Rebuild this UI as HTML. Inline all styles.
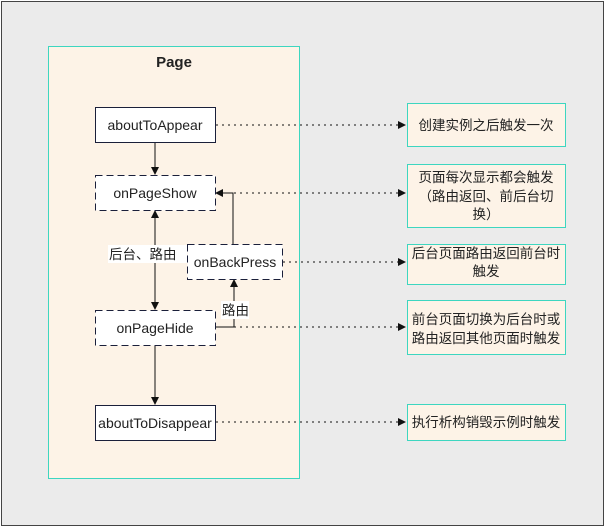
<!DOCTYPE html>
<html><head><meta charset="utf-8"><style>
body{margin:0;width:605px;height:527px;overflow:hidden;background:#fff}
text{font-family:"Liberation Sans","Noto Sans CJK SC",sans-serif;font-size:13.5px;fill:#222}
.n{font-size:14px}
</style></head><body>
<svg width="605" height="527" viewBox="0 0 605 527">
<defs><marker id="a" markerWidth="8" markerHeight="8" refX="7" refY="4" orient="auto" markerUnits="userSpaceOnUse"><path d="M0,0L8,4L0,8z" fill="#111"/></marker></defs>
<rect x="1.5" y="1.5" width="602" height="524" fill="#ebebeb" stroke="#444"/>
<rect x="48.5" y="46.5" width="251" height="432" fill="#fdf3e7" stroke="#3dd6c0"/>
<text x="174" y="67" text-anchor="middle" style="font-weight:bold;font-size:15px">Page</text>
<g stroke="#111" fill="none">
<line x1="155" y1="142" x2="155" y2="174" marker-end="url(#a)"/>
<line x1="155" y1="260" x2="155" y2="211" marker-end="url(#a)"/>
<line x1="155" y1="260" x2="155" y2="309" marker-end="url(#a)"/>
<polyline points="233,244 233,193 216,193" marker-end="url(#a)"/>
<polyline points="216,327 234,327 234,280" marker-end="url(#a)"/>
<line x1="155" y1="345" x2="155" y2="404" marker-end="url(#a)"/>
</g>
<g stroke="#111" stroke-dasharray="2,4" fill="none">
<line x1="216" y1="125" x2="405" y2="125" marker-end="url(#a)"/>
<line x1="216" y1="193" x2="405" y2="193" marker-end="url(#a)"/>
<line x1="283" y1="262" x2="405" y2="262" marker-end="url(#a)"/>
<line x1="216" y1="327" x2="405" y2="327" marker-end="url(#a)"/>
<line x1="216" y1="422" x2="405" y2="422" marker-end="url(#a)"/>
</g>
<g fill="#fff" stroke="#1a1f3a">
<rect x="95.5" y="107.5" width="120" height="35"/>
<rect x="95.5" y="175.5" width="120" height="35" stroke-dasharray="7,4"/>
<rect x="187.5" y="244.5" width="95" height="35" stroke-dasharray="7,4"/>
<rect x="95.5" y="310.5" width="120" height="35" stroke-dasharray="7,4"/>
<rect x="95.5" y="405.5" width="120" height="35"/>
</g>
<rect x="108" y="245" width="79" height="18" fill="#fff"/>
<rect x="221" y="301" width="28" height="18" fill="#fff"/>
<text class="n" x="155" y="130" text-anchor="middle">aboutToAppear</text>
<text class="n" x="155" y="198" text-anchor="middle">onPageShow</text>
<text class="n" x="235" y="267" text-anchor="middle">onBackPress</text>
<text class="n" x="155" y="333" text-anchor="middle">onPageHide</text>
<text class="n" x="155" y="428" text-anchor="middle">aboutToDisappear</text>
<text x="109" y="259">后台、路由</text>
<text x="222" y="315">路由</text>
<g fill="#fdf3e7" stroke="#3dd6c0">
<rect x="407.5" y="103.5" width="158" height="43"/>
<rect x="407.5" y="164.5" width="158" height="63"/>
<rect x="407.5" y="244.5" width="158" height="40"/>
<rect x="407.5" y="300.5" width="158" height="54"/>
<rect x="407.5" y="404.5" width="158" height="36"/>
</g>
<g text-anchor="middle">
<text x="486" y="130">创建实例之后触发一次</text>
<text x="486" y="182">页面每次显示都会触发</text>
<text x="486" y="201">（路由返回、前后台切</text>
<text x="486" y="219">换）</text>
<text x="486" y="258">后台页面路由返回前台时</text>
<text x="486" y="276">触发</text>
<text x="486" y="324">前台页面切换为后台时或</text>
<text x="486" y="343">路由返回其他页面时触发</text>
<text x="486" y="427">执行析构销毁示例时触发</text>
</g>
</svg>
</body></html>
